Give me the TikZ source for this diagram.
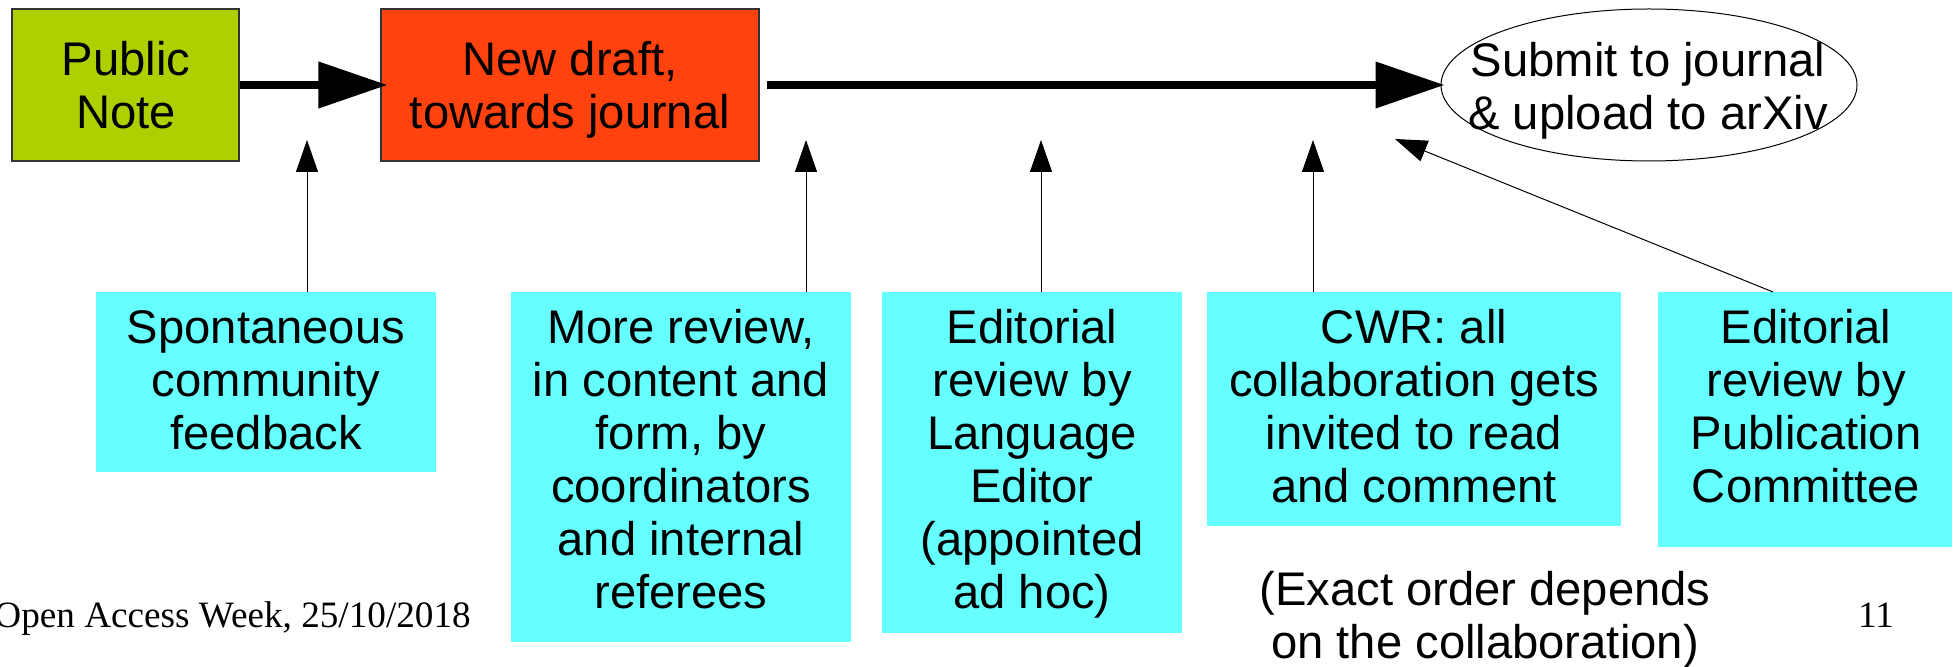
\documentclass[tikz,border=0pt]{standalone}
\usepackage{fontspec}
\setmainfont{Liberation Sans}
\newfontfamily\footserif{Liberation Serif}
\usetikzlibrary{arrows.meta,shapes.geometric}
\definecolor{pngreen}{HTML}{AECF00}
\definecolor{ndred}{HTML}{FF420E}
\definecolor{fbcyan}{HTML}{66FFFF}
\definecolor{edgegray}{HTML}{333333}
\begin{document}
\begin{tikzpicture}[x=0.5pt,y=-0.5pt,
  txt/.style={inner sep=0pt, align=center, font={\fontsize{23.6}{26.5}\selectfont}},
  foottxt/.style={inner sep=0pt, font={\footserif\fontsize{18.6}{21}\selectfont}},
  topbox/.style={draw=edgegray, line width=0.6pt, inner sep=0pt},
  fbbox/.style={fill=fbcyan, inner sep=0pt},
  bigarrow/.style={line width=3.7pt, -{Triangle[length=34.5pt,width=22.5pt]}},
  thinarrow/.style={line width=0.5pt, -{Triangle[length=16pt,width=11pt]}}]
\useasboundingbox (0,0) rectangle (1954,667);

% top row
\node[topbox, fill=pngreen, minimum width=113.5pt, minimum height=76pt] (pn) at (125.5,85) {};
\node[topbox, fill=ndred, minimum width=189pt, minimum height=76pt] (nd) at (570,85) {};
\node[ellipse, draw=black, line width=0.5pt, inner sep=0pt, minimum width=208pt, minimum height=76pt] (sub) at (1649,85) {};

\node[txt, anchor=north] (pnt) at (126,38) {\strut Public\\Note\strut};
\node[txt, anchor=north] (ndt) at (570,38) {\strut New draft,\\towards journal\strut};
\node[txt, anchor=north] (subt) at (1648,39) {\strut Submit to journal\\\& upload to arXiv\strut};

\draw[bigarrow, shorten >=-3.5pt] (pn.east) -- (nd.west);
\draw[bigarrow, shorten >=-2pt] ([xshift=3.5pt]nd.east) -- (sub.west);

% feedback boxes
\node[fbbox, minimum width=170pt, minimum height=90pt] (b1) at (266,382) {};
\node[fbbox, minimum width=170pt, minimum height=175pt] (b2) at (681,467) {};
\node[fbbox, minimum width=150pt, minimum height=170.5pt] (b3) at (1032,462.5) {};
\node[fbbox, minimum width=207pt, minimum height=117pt] (b4) at (1414,409) {};
\node[fbbox, minimum width=147pt, minimum height=127.5pt] (b5) at (1805,419.5) {};

\node[txt, anchor=north] (b1t) at (266,306) {\strut Spontaneous\\community\\feedback\strut};
\node[txt, anchor=north] (b2t) at (681,306) {\strut More review,\\in content and\\form, by\\coordinators\\and internal\\referees\strut};
\node[txt, anchor=north] (b3t) at (1032,306) {\strut Editorial\\review by\\Language\\Editor\\(appointed\\ad hoc)\strut};
\node[txt, anchor=north] (b4t) at (1414,306) {\strut CWR: all\\collaboration gets\\invited to read\\and comment\strut};
\node[txt, anchor=north] (b5t) at (1806,306) {\strut Editorial\\review by\\Publication\\Committee\strut};

% thin arrows
\coordinate (t1) at (307,140);
\coordinate (t2) at (806,140);
\coordinate (t3) at (1041,140);
\coordinate (t4) at (1313,140);
\coordinate (d5) at (1773,292);
\coordinate (t5) at (1395,139);
\draw[thinarrow] (t1 |- b1.north) -- (t1);
\draw[thinarrow] (t2 |- b2.north) -- (t2);
\draw[thinarrow] (t3 |- b3.north) -- (t3);
\draw[thinarrow] (t4 |- b4.north) -- (t4);
\draw[thinarrow] (d5) -- (t5);

% footer texts
\node[txt, anchor=north] (note) at (1485,568) {\strut(Exact order depends\\on the collaboration)\strut};
\node[foottxt, anchor=base west] (foot) at (-6,627) {Open Access Week, 25/10/2018};
\node[foottxt, anchor=base] (pg) at (1876,627) {11};
\end{tikzpicture}
\end{document}
